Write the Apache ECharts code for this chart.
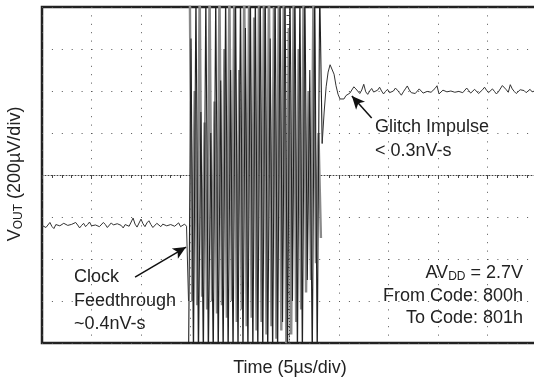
<!DOCTYPE html>
<html>
<head>
<meta charset="utf-8">
<script src="https://cdn.jsdelivr.net/npm/echarts@6/dist/echarts.min.js"></script>
<style>
  html, body { margin: 0; padding: 0; background: #fff; }
  #chart { width: 534px; height: 379px; }
</style>
</head>
<body>
<div id="chart"></div>
<script>
// time in µs relative to the screen centre, voltage in µV (200µV/div)
const leftStart = -25;
const sampleStep = 0.2;
const leftTrace = [
  -240, -232, -250, -238, -226, -245, -255, -236, -228, -242,
  -250, -230, -222, -240, -248, -235, -244, -226, -238, -252,
  -240, -230, -246, -236, -224, -242, -250, -238, -232, -246,
  -240, -226, -236, -250, -242, -228, -238, -246, -232, -224,
  -240, -252, -236, -230, -244, -238, -205, -234, -248, -240,
  -210, -232, -246, -228, -218, -236, -250, -242, -230, -238,
  -246, -234, -226, -242, -250, -236, -230, -244, -238, -228,
  -246, -240, -234, -244, -600
];

// glitch burst (values beyond ±800 are clipped by the screen)
const burstStep = 0.25;
const blackStart = -10.2;
const burstBlack = [
  -900, 650, -900, 900, -900, 300, -900, 900, -900, 200,
  -900, 900, -900, 450, -900, 900, -900, 500, -900, 900,
  -900, 900, -900, 700, -900, 900, -900, 900, -900, 900,
  -900, 900, -900, 650, -900, 900, -900, 900, -700, 900,
  -900, 900, -600, 900, -900, 900, -900, 900, -500, 500,
  -900, 900, -900, 900, 150
];

const grayStart = -10.075;
const burstGray = [
  900, -600, 400, -620, 900, -580, 250, -640, 900, -600,
  350, -660, 900, -620, 600, -680, 900, -600, 900, -700,
  500, -640, 900, -720, 900, -680, 750, -740, 900, -700,
  900, -760, 900, -720, 800, -780, 900, -740, 900, -800,
  700, -760, 900, -700, 600, -640, 900, -560, 400, -500,
  900, -420, 200, -300
];

const rightStart = 3.3;
const rightTrace = [
  150, 300, 420, 490, 525, 520, 480, 425, 385, 362,
  355, 362, 378, 372, 390, 384, 420, 410, 402, 388,
  405, 432, 396, 384, 400, 412, 395, 390, 404, 418,
  400, 386, 398, 408, 392, 385, 400, 414, 404, 392,
  380, 396, 410, 424, 405, 392, 400, 388, 396, 410,
  402, 390, 384, 398, 406, 394, 400, 412, 425, 386,
  392, 404, 410, 396, 388, 400, 408, 394, 386, 398,
  406, 392, 400, 414, 402, 390, 396, 408, 400, 388,
  394, 406, 418, 404, 392, 400, 410, 398, 386, 396,
  404, 426, 420, 406, 394, 430, 410, 398, 388, 396,
  406, 414, 402, 392, 400, 408, 396, 390, 402, 398
];

// arrow annotations [tail, head] in data units
const clockArrow = [[-15.6, -486], [-10.45, -343]];
const glitchArrow = [[8.3, 271], [6.3, 376]];

function toPairs(start, step, values) {
  return values.map((v, i) => [start + i * step, v]);
}

const font = '"Liberation Sans", Arial, Helvetica, sans-serif';
const textColor = '#222';

let chart = echarts.init(document.getElementById('chart'), null, { renderer: 'canvas' });

function arrowLine(pts) {
  return [{ coord: pts[0] }, { coord: pts[1] }];
}

let option = {
  animation: false,
  backgroundColor: '#fff',
  grid: {
    left: 42,
    top: 7,
    width: 495,
    height: 336,
    outerBoundsMode: 'none',
    containLabel: false,
    show: true,
    borderColor: '#222',
    borderWidth: 2.5,
  },
  xAxis: {
    type: 'value',
    min: -25,
    max: 25,
    interval: 5,
    axisLine: {
      onZero: true,
      lineStyle: { color: '#444', width: 1, type: [1, 2] },
    },
    axisTick: { show: true, length: 4, lineStyle: { color: '#444' } },
    minorTick: { show: true, splitNumber: 5, length: 3, lineStyle: { color: '#444' } },
    axisLabel: { show: false },
    splitLine: {
      show: true,
      lineStyle: { color: '#555', width: 1, type: [1, 7.4] },
    },
  },
  yAxis: {
    type: 'value',
    min: -800,
    max: 800,
    interval: 200,
    axisLine: {
      onZero: true,
      lineStyle: { color: '#444', width: 1, type: [1, 2] },
    },
    axisTick: { show: true, length: 4, lineStyle: { color: '#444' } },
    minorTick: { show: true, splitNumber: 5, length: 3, lineStyle: { color: '#444' } },
    axisLabel: { show: false },
    splitLine: {
      show: true,
      lineStyle: { color: '#555', width: 1, type: [1, 8.9] },
    },
  },
  series: [
    {
      name: 'gray',
      type: 'line',
      data: toPairs(grayStart, burstStep, burstGray),
      showSymbol: false,
      lineStyle: { color: '#8a8a8a', width: 2.4 },
      z: 2,
    },
    {
      name: 'black',
      type: 'line',
      data: toPairs(blackStart, burstStep, burstBlack),
      showSymbol: false,
      lineStyle: { color: '#222', width: 1.1 },
      z: 3,
    },
    {
      name: 'left',
      type: 'line',
      data: toPairs(leftStart, sampleStep, leftTrace),
      showSymbol: false,
      lineStyle: { color: '#333', width: 1 },
      z: 4,
      markLine: {
        silent: true,
        symbol: ['none', 'arrow'],
        symbolSize: [9, 13],
        label: { show: false },
        lineStyle: { color: '#111', width: 1.5, type: 'solid' },
        data: [arrowLine(clockArrow), arrowLine(glitchArrow)],
      },
    },
    {
      name: 'right',
      type: 'line',
      data: toPairs(rightStart, sampleStep, rightTrace),
      showSymbol: false,
      lineStyle: { color: '#333', width: 1 },
      z: 4,
    },
  ],
  graphic: [
    {
      type: 'text',
      x: 290,
      y: 368,
      style: {
        text: 'Time (5µs/div)',
        font: '18px ' + font,
        fill: textColor,
        align: 'center',
        verticalAlign: 'middle',
      },
    },
    {
      type: 'text',
      x: 15,
      y: 174,
      rotation: Math.PI / 2,
      style: {
        text: '{a|V}{b|OUT}{a| (200µV/div)}',
        fill: textColor,
        align: 'center',
        verticalAlign: 'middle',
        rich: {
          a: { fontSize: 18, fontFamily: font, lineHeight: 20, fill: textColor },
          b: { fontSize: 12, fontFamily: font, lineHeight: 12, verticalAlign: 'bottom', fill: textColor },
        },
      },
    },
    {
      type: 'text',
      x: 74,
      y: 301,
      style: {
        text: 'Clock\nFeedthrough\n~0.4nV-s',
        font: '18px ' + font,
        lineHeight: 23.5,
        fill: textColor,
        align: 'left',
        verticalAlign: 'middle',
      },
    },
    {
      type: 'text',
      x: 375,
      y: 139,
      style: {
        text: 'Glitch Impulse\n< 0.3nV-s',
        font: '18px ' + font,
        lineHeight: 24,
        fill: textColor,
        align: 'left',
        verticalAlign: 'middle',
      },
    },
    {
      type: 'text',
      x: 523,
      y: 273,
      style: {
        text: '{a|AV}{b|DD}{a| = 2.7V}',
        fill: textColor,
        align: 'right',
        verticalAlign: 'middle',
        rich: {
          a: { fontSize: 18, fontFamily: font, lineHeight: 20, fill: textColor },
          b: { fontSize: 12, fontFamily: font, lineHeight: 12, verticalAlign: 'bottom', fill: textColor },
        },
      },
    },
    {
      type: 'text',
      x: 523,
      y: 307,
      style: {
        text: 'From Code: 800h\nTo Code: 801h',
        font: '18px ' + font,
        lineHeight: 22.5,
        fill: textColor,
        align: 'right',
        verticalAlign: 'middle',
      },
    },
  ],
};

chart.setOption(option);
</script>
</body>
</html>
